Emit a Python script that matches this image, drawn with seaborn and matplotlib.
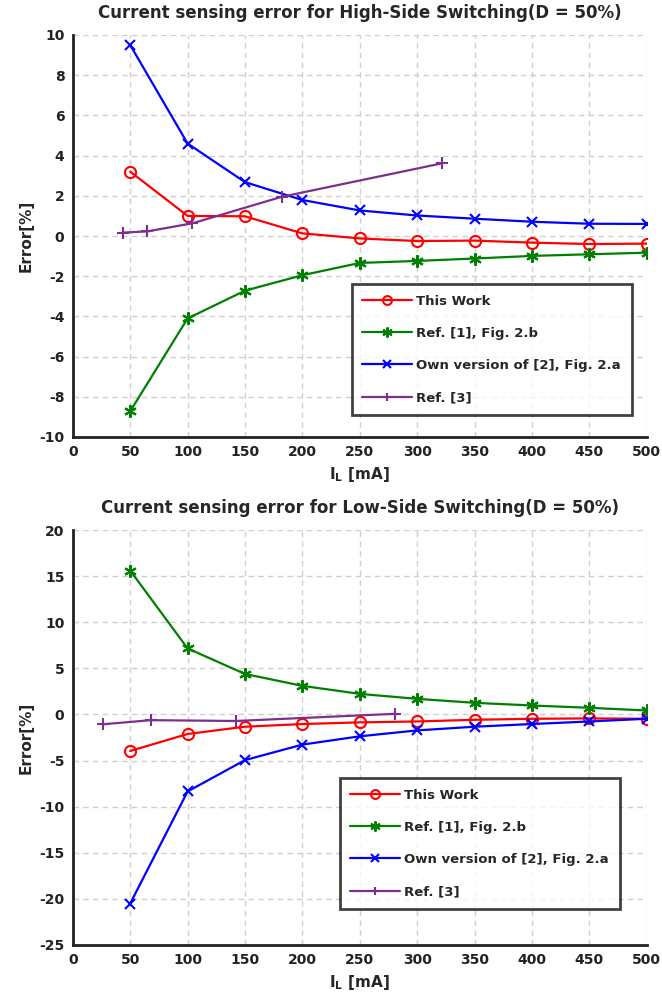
import matplotlib
matplotlib.use("Agg")
import matplotlib.pyplot as plt
import seaborn as sns
import numpy as np

# ---------------- data ----------------
il = [50, 100, 150, 200, 250, 300, 350, 400, 450, 500]

hs_this_work = [3.2, 1.0, 0.98, 0.13, -0.12, -0.25, -0.23, -0.33, -0.4, -0.38]
hs_ref1 = [-8.72, -4.1, -2.72, -1.95, -1.34, -1.24, -1.12, -0.99, -0.91, -0.83]
hs_ref2 = [9.5, 4.6, 2.68, 1.79, 1.27, 1.02, 0.86, 0.71, 0.61, 0.6]
hs_ref3_x = [44, 65, 104, 182, 322]
hs_ref3_y = [0.17, 0.23, 0.63, 1.95, 3.62]

ls_this_work = [-3.96, -2.12, -1.33, -1.04, -0.86, -0.76, -0.58, -0.47, -0.43, -0.47]
ls_ref1 = [15.6, 7.16, 4.39, 3.1, 2.23, 1.69, 1.26, 0.97, 0.72, 0.43]
ls_ref2 = [-20.5, -8.35, -4.95, -3.27, -2.37, -1.73, -1.33, -1.04, -0.76, -0.47]
ls_ref3_x = [26, 68, 142, 281]
ls_ref3_y = [-1.07, -0.62, -0.71, 0.07]

labels = ["This Work", "Ref. [1], Fig. 2.b", "Own version of [2], Fig. 2.a", "Ref. [3]"]
titles = ["Current sensing error for High-Side Switching(D = 50%)",
          "Current sensing error for Low-Side Switching(D = 50%)"]
xticks = list(range(0, 501, 50))
hs_yticks = list(range(-10, 11, 2))
ls_yticks = list(range(-25, 21, 5))

# ---------------- style ----------------
sns.set_style("white")
plt.rcParams['font.family'] = ['DejaVu Sans']
plt.rcParams['font.weight'] = 'bold'
plt.rcParams['axes.unicode_minus'] = False
plt.rcParams['mathtext.fontset'] = 'dejavusans'

colors = ['#FF0000', '#008000', '#0000FF', '#7E2F8E']
markers = ['o', (6, 2, 0), 'x', '+']
msizes = [8, 9, 7, 8]

fig = plt.figure(figsize=(6.62, 10.0), dpi=100)
ax1 = fig.add_axes([0.110, 0.563, 0.867, 0.402])
ax2 = fig.add_axes([0.110, 0.055, 0.867, 0.415])


def draw(ax, series, ylim, yticks, title, leg_anchor):
    for (x, y), c, m, ms, lab in zip(series, colors, markers, msizes, labels):
        kw = dict(markersize=ms, markeredgewidth=1.5, markeredgecolor=c)
        if m == 'o':
            kw.update(markerfacecolor='none')
        sns.lineplot(x=x, y=y, ax=ax, color=c, marker=m, linewidth=1.6,
                     label=lab, sort=False, **kw)
    ax.set_xlim(0, 500)
    ax.set_ylim(*ylim)
    ax.set_xticks(xticks)
    ax.set_yticks(yticks)
    ax.tick_params(direction='in', length=4, width=1.2, labelsize=10,
                   top=False, right=False, pad=6, labelcolor='#222222')
    for lab in ax.get_xticklabels() + ax.get_yticklabels():
        lab.set_fontweight('bold')
    ax.grid(True, linestyle=(0, (4, 3)), color='#cfcfcf', linewidth=1.0)
    for s in ['top', 'right']:
        ax.spines[s].set_visible(False)
    for s in ['left', 'bottom']:
        ax.spines[s].set_linewidth(2.0)
        ax.spines[s].set_color('#222222')
    ax.set_title(title, fontsize=12, fontweight='bold', pad=12)
    ax.set_ylabel("Error[%]", fontsize=11, fontweight='bold', labelpad=4)
    ax.set_xlabel(r"$\mathbf{I_L}$ [mA]", fontsize=11, fontweight='bold', labelpad=4)
    leg = ax.legend(loc='upper left', bbox_to_anchor=leg_anchor, fontsize=9.5,
                    frameon=True, fancybox=False, edgecolor='#111111',
                    labelspacing=1.45, handlelength=3.8, handletextpad=0.3,
                    borderpad=0.8, borderaxespad=0, markerscale=0.8)
    leg.get_frame().set_linewidth(2.0)
    for t in leg.get_texts():
        t.set_fontweight('bold')


draw(ax1, [(il, hs_this_work), (il, hs_ref1), (il, hs_ref2), (hs_ref3_x, hs_ref3_y)],
     (-10, 10), hs_yticks, titles[0], (0.486, 0.380))
draw(ax2, [(il, ls_this_work), (il, ls_ref1), (il, ls_ref2), (ls_ref3_x, ls_ref3_y)],
     (-25, 20), ls_yticks, titles[1], (0.465, 0.402))

fig.savefig("out.png", dpi=100)
